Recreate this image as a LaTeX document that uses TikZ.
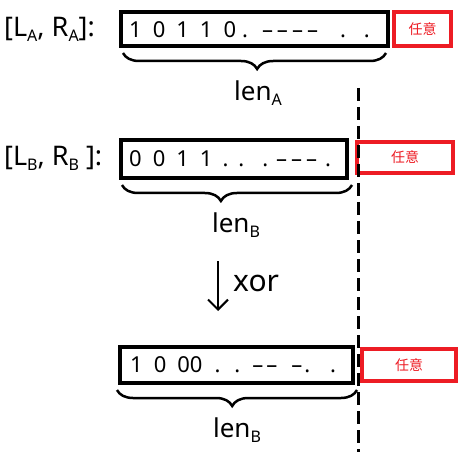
\documentclass[tikz,border=0pt]{standalone}
\usepackage{fontspec}
\setmainfont{Noto Sans}
\newfontfamily\cjk{Noto Sans CJK SC}
\usepackage{xcolor}
\usepackage{tikz}
\usetikzlibrary{decorations.pathreplacing,arrows.meta}
\definecolor{anyred}{RGB}{237,28,36}
\newcommand{\bitgap}{\hspace{11pt}}
\newcommand{\lowidx}[1]{\raisebox{-5pt}{\fontsize{16}{16}\selectfont #1}}
\tikzset{
  bitbox/.style={draw, line width=4pt, inner sep=0pt},
  anybox/.style={draw=anyred, line width=4.5pt, inner sep=0pt, text=anyred,
    font=\cjk\fontsize{14}{14}\selectfont},
  bits/.style={anchor=west, inner sep=0pt, font=\fontsize{22}{22}\selectfont},
  tag/.style={anchor=west, inner sep=0pt, font=\fontsize{27}{27}\selectfont},
  hand/.style={inner sep=0pt, font=\fontsize{26}{26}\selectfont},
  lenbrace/.style={decorate, decoration={brace, mirror, amplitude=16pt, aspect=#1},
    line width=2.5pt},
  cutline/.style={line width=3pt, dash pattern=on 13pt off 6pt},
  xorarrow/.style={line width=2pt, -{Straight Barb[length=10pt, width=20pt]}}
}

\begin{document}
\begin{tikzpicture}[x=1pt, y=-1pt]
  \useasboundingbox (0,0) rectangle (463,457);

  \node[bitbox, minimum width=267pt, minimum height=34pt] (boxA) at (254.5,29) {};
  \node[anybox, minimum width=57pt, minimum height=34pt] (anyA) at (422.5,29) {任意};
  \node[tag] (tagA) at (4,29) {[L\lowidx{A}, R\lowidx{A}]:};
  \node[bits] (bitsA) at (129,30) {1\bitgap0\bitgap1\bitgap1\bitgap0\hspace{6pt}.\hspace{14pt}–\hspace{4pt}–\hspace{4pt}–\hspace{4pt}–\hspace{22pt}.\hspace{18pt}.};
  \draw[lenbrace=0.51] ([xshift=4pt, yshift=-5pt]boxA.south west) -- ([xshift=-4pt, yshift=-5pt]boxA.south east);
  \node[hand] (lenA) at (258,93) {len\lowidx{A}};

  \node[bitbox, minimum width=226pt, minimum height=38pt] (boxB) at (234,159) {};
  \node[anybox, minimum width=96pt, minimum height=31pt] (anyB) at (405,157.5) {任意};
  \node[tag] (tagB) at (4,158) {[L\lowidx{B}, R\lowidx{B} ]:};
  \node[bits] (bitsB) at (129,159) {0\bitgap0\bitgap1\bitgap1\hspace{10pt}.\hspace{10pt}.\hspace{18pt}.\hspace{8pt}–\hspace{4pt}–\hspace{4pt}–\hspace{8pt}.};
  \draw[lenbrace=0.43] ([xshift=3pt, yshift=-5pt]boxB.south west) -- ([xshift=3pt, yshift=-5pt]boxB.south east);
  \node[hand] (lenB) at (236,225) {len\lowidx{B}};

  \coordinate (xorT) at (218,261);
  \coordinate (xorB) at (218,311);
  \draw[xorarrow] (xorT) -- (xorB);
  \node[hand, anchor=west, font=\fontsize{30}{30}\selectfont] (xor) at (233,283) {xor};

  \node[bitbox, minimum width=233pt, minimum height=36pt] (boxC) at (236.5,365) {};
  \node[anybox, minimum width=94pt, minimum height=32pt] (anyC) at (409,365) {任意};
  \node[bits] (bitsC) at (130,365) {1\bitgap0\bitgap00\hspace{12pt}.\hspace{14pt}.\hspace{12pt}–\hspace{3pt}–\hspace{14pt}–\hspace{2pt}.\hspace{20pt}.};
  \draw[lenbrace=0.48] ([xshift=-1pt, yshift=-5pt]boxC.south west) -- ([xshift=2pt, yshift=-5pt]boxC.south east);
  \node[hand] (lenC) at (237,430) {len\lowidx{B}};

  \coordinate (cutT) at (358,88);
  \coordinate (cutB) at (358,452);
  \draw[cutline] (cutT) -- (cutB);
\end{tikzpicture}
\end{document}
